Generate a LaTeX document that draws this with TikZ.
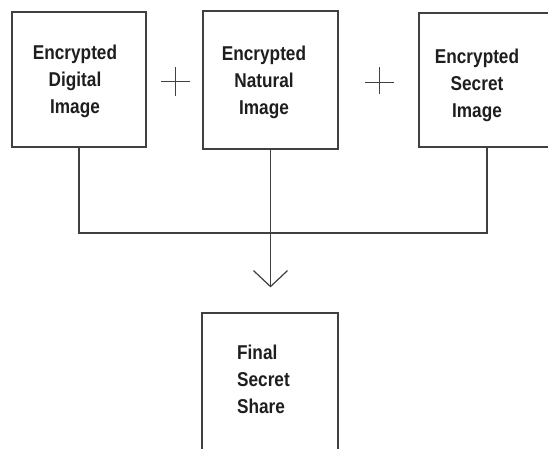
\documentclass[tikz,border=0pt]{standalone}
\usepackage{fontspec}
\setmainfont{Liberation Sans}
\newfontfamily\lblfont[FakeStretch=0.86]{Liberation Sans Bold}
\usetikzlibrary{arrows.meta}
\definecolor{ink}{HTML}{404040}
\definecolor{txt}{HTML}{1E1E1E}
\tikzset{
  box/.style={draw=ink, line width=1.2pt, minimum width=#1, inner sep=0pt},
  lbl/.style={inner sep=0pt, text=txt, align=center, font=\lblfont\fontsize{20pt}{27pt}\selectfont},
  wire/.style={draw=ink, line width=1.2pt},
  plussign/.style={draw=ink, line width=1.2pt},
}
\begin{document}
\begin{tikzpicture}[x=1pt,y=-1pt]
\useasboundingbox[fill=white] (0,0) rectangle (548,448);
% boxes
\node[box=134pt, minimum height=135pt] (b1) at (79,79.5) {};
\node[box=135pt, minimum height=138pt] (b2) at (270.5,80) {};
\node[box=136pt, minimum height=134pt] (b3) at (487,80) {};
\node[box=136pt, minimum height=140pt] (fs) at (270,383) {};
% labels
\node[lbl, anchor=north] (t1) at (75,44.4) {Encrypted\\Digital\\Image};
\node[lbl, anchor=north] (t2) at (264,45.4) {Encrypted\\Natural\\Image};
\node[lbl, anchor=north] (t3) at (477,48.4) {Encrypted\\Secret\\Image};
\node[lbl, anchor=north west, align=left] (t4) at (237,344.4) {Final\\Secret\\Share};
% plus signs
\coordinate (p1) at (175.5,81.5);
\coordinate (p2) at (379.5,82.5);
\draw[plussign] ([xshift=-14.5pt]p1) -- ([xshift=14pt]p1);
\draw[plussign] ([yshift=14.5pt]p1) -- ([yshift=-14.5pt]p1);
\draw[plussign] ([xshift=-14.5pt]p2) -- ([xshift=14.5pt]p2);
\draw[plussign] ([yshift=15.5pt]p2) -- ([yshift=-11.5pt]p2);
% connectors
\coordinate (j) at (270.5,233);
\draw[wire] (b1.south) |- (j) -| (b3.south);
\draw[wire, -{Straight Barb[length=16pt,width=34pt]}, shorten >=25pt] (b2.south) -- (b2.south |- fs.north);
\end{tikzpicture}
\end{document}
